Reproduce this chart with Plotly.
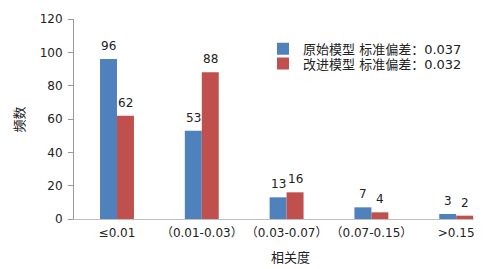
import plotly.graph_objects as go

categories = ["≤0.01", "（0.01-0.03）", "（0.03-0.07）", "（0.07-0.15）", ">0.15"]
original = [96, 53, 13, 7, 3]
improved = [62, 88, 16, 4, 2]
names = ["原始模型 标准偏差：0.037", "改进模型 标准偏差：0.032"]
colors = ["#4F81BD", "#C0504D"]
y_ticks = [0, 20, 40, 60, 80, 100, 120]

FONT = "DejaVu Sans, Noto Sans CJK SC"
fig = go.Figure()
idx = list(range(len(categories)))
for vals, nm, col, lg in zip([original, improved], names, colors, ["legend", "legend2"]):
    fig.add_trace(go.Bar(x=idx, y=vals, name=nm, legend=lg, showlegend=True,
                         marker=dict(color=col, line=dict(width=0))))

ann = []
for vals, shift in [(original, -8.5), (improved, 8.5)]:
    for i, v in enumerate(vals):
        ann.append(dict(x=i, y=v, xref="x", yref="y", text=str(v), showarrow=False,
                        xshift=shift, yshift=13, font=dict(family=FONT, size=12, color="#222")))
ann.append(dict(x=-0.1225, y=0.4975, xref="paper", yref="paper", text="频数", textangle=-90,
                xanchor="center", yanchor="middle", xshift=-7,
                showarrow=False, font=dict(family="Noto Sans CJK SC", size=13, color="#222")))
ann.append(dict(x=0.54, y=0, xref="paper", yref="paper", text="相关度", yshift=-37,
                xanchor="center", yanchor="middle",
                showarrow=False, font=dict(family="Noto Sans CJK SC", size=13, color="#222")))

leg = dict(x=0.4725, xanchor="left", yanchor="top", bgcolor="rgba(0,0,0,0)",
           font=dict(family=FONT, size=13, color="#222"), itemwidth=30)
fig.update_layout(
    width=501, height=269, margin=dict(l=74, r=27, t=16, b=50),
    paper_bgcolor="white", plot_bgcolor="white",
    barmode="group", bargap=0.6, bargroupgap=0,
    font=dict(family=FONT, size=12, color="#222"),
    annotations=ann, showlegend=True,
    legend=dict(leg, y=0.926),
    legend2=dict(leg, y=0.852),
    xaxis=dict(tickmode="array", tickvals=idx, ticktext=categories, range=[-0.507, 4.21],
               showline=True, linecolor="#BFBFBF", linewidth=1, ticks="", showgrid=False,
               zeroline=False, ticklabelstandoff=3,
               tickfont=dict(family=FONT, size=12, color="#222")),
    yaxis=dict(range=[0, 120], tickvals=y_ticks, showline=True, linecolor="#999999",
               linewidth=1, ticks="outside", ticklen=5, tickcolor="#999999",
               showgrid=False, zeroline=False, ticklabelstandoff=3,
               tickfont=dict(family=FONT, size=12, color="#222")),
)
fig.write_html("out.html")
